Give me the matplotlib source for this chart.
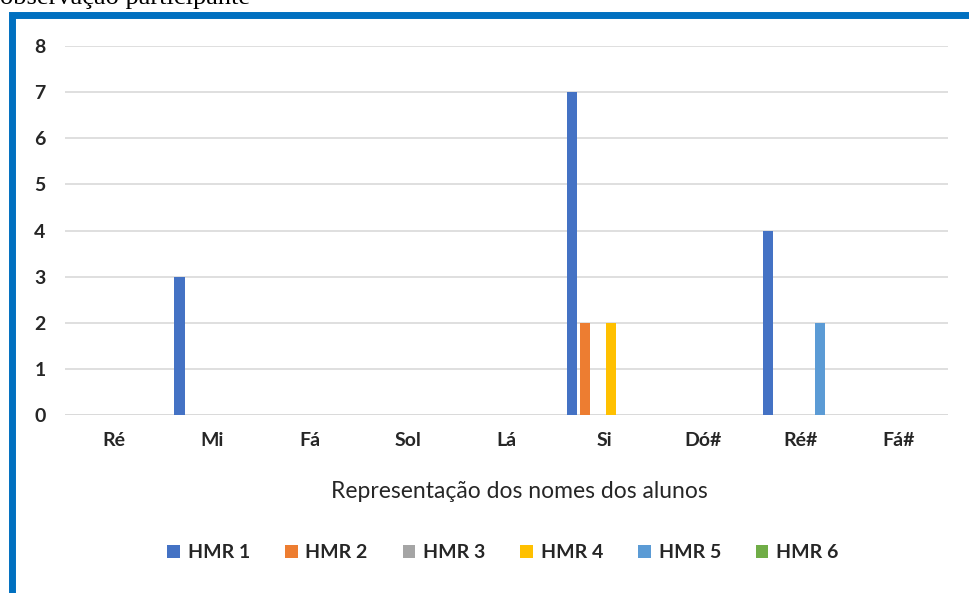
import numpy as np
import matplotlib.pyplot as plt
from matplotlib.patches import Rectangle

notas = ['Ré', 'Mi', 'Fá', 'Sol', 'Lá', 'Si', 'Dó#', 'Ré#', 'Fá#']
series = ['HMR 1', 'HMR 2', 'HMR 3', 'HMR 4', 'HMR 5', 'HMR 6']
hmr1 = [0, 3, 0, 0, 0, 7, 0, 4, 0]
hmr2 = [0, 0, 0, 0, 0, 2, 0, 0, 0]
hmr3 = [0, 0, 0, 0, 0, 0, 0, 0, 0]
hmr4 = [0, 0, 0, 0, 0, 2, 0, 0, 0]
hmr5 = [0, 0, 0, 0, 0, 0, 0, 2, 0]
hmr6 = [0, 0, 0, 0, 0, 0, 0, 0, 0]
cores = ['#4472C4', '#ED7D31', '#A5A5A5', '#FFC000', '#5B9BD5', '#70AD47']

plt.rcParams['font.family'] = ['Lato', 'DejaVu Sans']

fig = plt.figure(figsize=(9.69, 5.93), dpi=100)
ax = fig.add_axes([65 / 969, 1 - 415 / 593, (948 - 65) / 969, (415 - 46) / 593])

x = np.arange(len(notas))
passo = 0.133
largura = 0.103
for i, (nome, valores) in enumerate(zip(series, [hmr1, hmr2, hmr3, hmr4, hmr5, hmr6])):
    ax.bar(x + (i - 2.5) * passo, valores, width=largura, color=cores[i], label=nome, zorder=3)

ax.set_xlim(-0.5, len(notas) - 0.5)
ax.set_ylim(0, 8)
ax.set_yticks(range(0, 9))
ax.set_xticks(x)
ax.set_xticklabels(notas, fontsize=14, fontweight='bold', color='#262626')
for t in ax.get_yticklabels():
    t.set_fontsize(14)
    t.set_fontweight('bold')
    t.set_color('#262626')
ax.tick_params(length=0)
ax.tick_params(axis='y', pad=14)
ax.tick_params(axis='x', pad=12)
ax.yaxis.grid(True, color='#D9D9D9', linewidth=1.2, zorder=0)
for s in ax.spines.values():
    s.set_visible(False)
ax.axhline(0, color='#D9D9D9', linewidth=1.2, zorder=1)

ax.set_xlabel('Representação dos nomes dos alunos', fontsize=16.5, color='#262626')
ax.xaxis.set_label_coords(0.515, -0.18)

ax.legend(loc='center', bbox_to_anchor=(503 / 969, 1 - 553 / 593), bbox_transform=fig.transFigure,
          ncol=6, frameon=False, handlelength=0.65, handleheight=0.65, columnspacing=1.8,
          handletextpad=0.4, prop={'size': 14, 'weight': 'bold'})
for t in ax.get_legend().get_texts():
    t.set_color('#262626')

# moldura azul e legenda da figura acima
fig.patches.append(Rectangle((11.5 / 969, -0.1), 1.2, 1 - 14.5 / 593 + 0.1, transform=fig.transFigure,
                             fill=False, edgecolor='#0070C0', linewidth=5.0))
fig.text(0.0, 1 - 4 / 593, 'observação participante', family='Liberation Serif', fontsize=19,
         va='baseline', ha='left', color='black')

fig.savefig('out.png', dpi=100)
